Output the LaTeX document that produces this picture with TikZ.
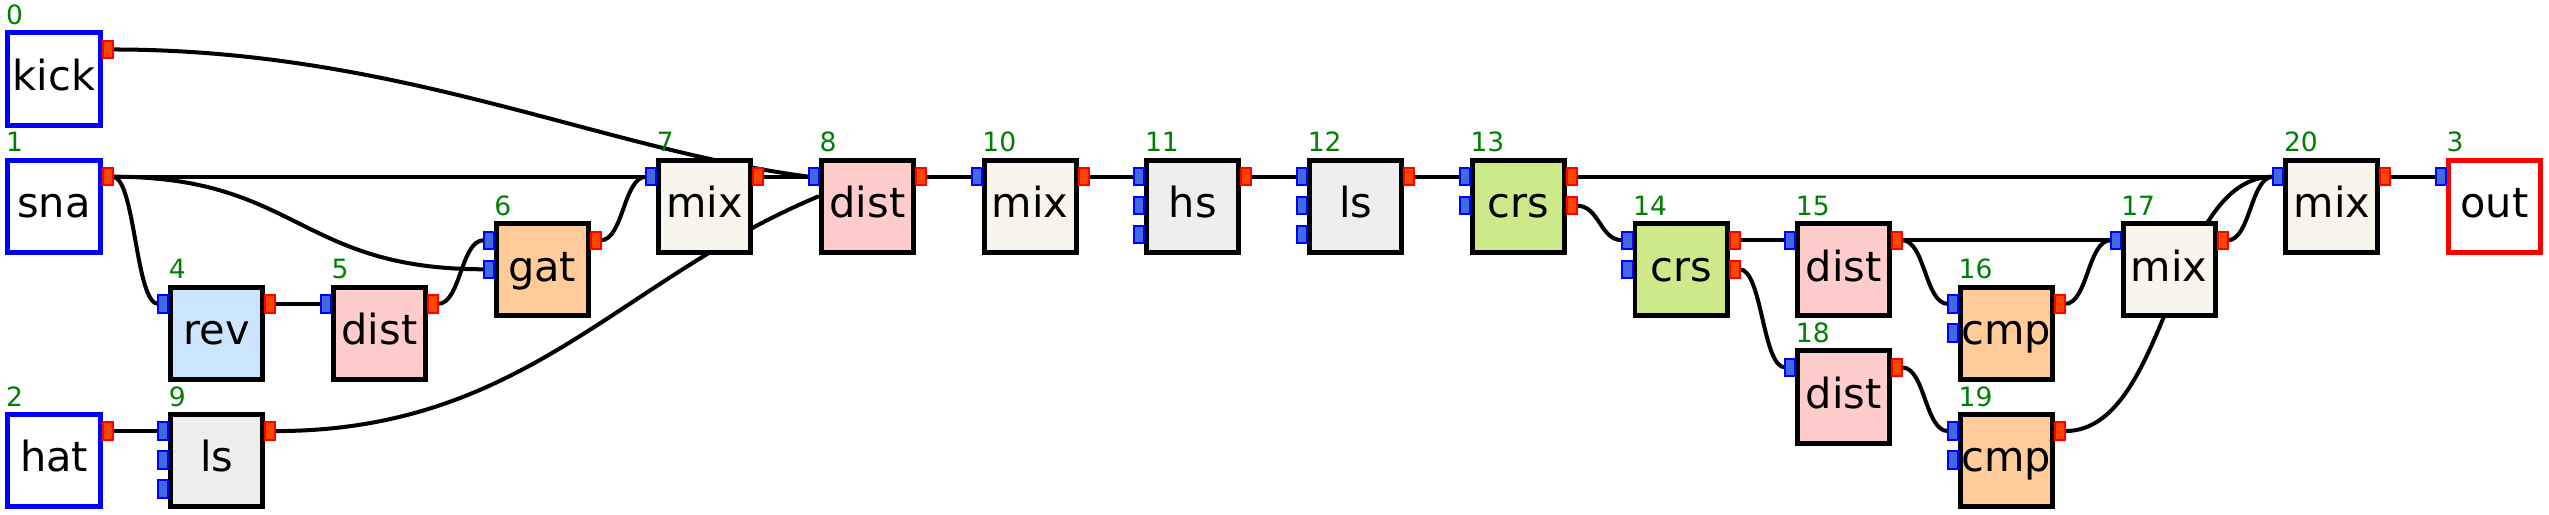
\documentclass[tikz,border=0pt]{standalone}
\usepackage{fontspec}
\setmainfont{DejaVu Sans}
\usepackage{tikz}
\usetikzlibrary{calc,backgrounds}
\definecolor{srcblue}{RGB}{0,0,255}
\definecolor{pblue}{RGB}{65,105,225}
\definecolor{pred}{RGB}{255,69,0}
\definecolor{idgreen}{RGB}{0,128,0}
\definecolor{distfill}{RGB}{255,204,204}
\definecolor{mixfill}{RGB}{248,245,237}
\definecolor{lsfill}{RGB}{238,238,238}
\definecolor{crsfill}{RGB}{205,234,139}
\definecolor{cmpfill}{RGB}{255,204,153}
\definecolor{revfill}{RGB}{204,229,255}
\tikzstyle{blk} = [rectangle, draw=black, line width=1.42pt, minimum width=0.92cm, minimum height=0.92cm,
  inner sep=0pt, text height=0.315cm, text depth=0.09cm, font=\fontsize{11.8}{14}\selectfont]
\tikzstyle{src} = [blk, draw=srcblue, fill=white]
\tikzstyle{snk} = [blk, draw=red, fill=white]
\tikzstyle{inport} = [rectangle, draw=srcblue, fill=pblue, line width=0.57pt, minimum width=0.1cm,
  minimum height=0.175cm, inner sep=0pt, outer sep=0pt]
\tikzstyle{outport} = [inport, draw=red, fill=pred]
\tikzstyle{idx} = [anchor=base west, inner sep=0pt, text=idgreen, font=\fontsize{7.55}{9}\selectfont]
\tikzstyle{wire} = [line width=1.14pt, to path={let \p1=(\tikztostart), \p2=(\tikztotarget) in
  .. controls ({0.5*\x1+0.5*\x2},\y1) and ({0.5*\x1+0.5*\x2},\y2) .. (\tikztotarget)}]
\begin{document}
\begin{tikzpicture}[x=0.01cm,y=0.01cm]
\useasboundingbox (0,0) rectangle (2549,514);
% sources
\node[src] (kick) at (54,435) {kick};
\node[src] (sna) at (54,307.8) {sna};
\node[src] (hat) at (54,53.4) {hat};
% first stage
\node[blk,fill=revfill] (rev4) at (216.7,180.6) {rev};
\node[blk,fill=distfill] (dist5) at (379.4,180.6) {dist};
\node[blk,fill=cmpfill] (gat6) at (542.1,244.2) {gat};
\node[blk,fill=mixfill] (mix7) at (704.8,307.8) {mix};
\node[blk,fill=lsfill] (ls9) at (216.7,53.4) {ls};
\node[blk,fill=distfill] (dist8) at (867.5,307.8) {dist};
% main chain
\node[blk,fill=mixfill] (mix10) at (1030.2,307.8) {mix};
\node[blk,fill=lsfill] (hs11) at (1192.9,307.8) {hs};
\node[blk,fill=lsfill] (ls12) at (1355.6,307.8) {ls};
\node[blk,fill=crsfill] (crs13) at (1518.3,307.8) {crs};
\node[blk,fill=crsfill] (crs14) at (1681,244.2) {crs};
\node[blk,fill=distfill] (dist15) at (1843.7,244.2) {dist};
\node[blk,fill=cmpfill] (cmp16) at (2006.4,180.6) {cmp};
\node[blk,fill=mixfill] (mix17) at (2169.1,244.2) {mix};
\node[blk,fill=distfill] (dist18) at (1843.7,117) {dist};
\node[blk,fill=cmpfill] (cmp19) at (2006.4,53.4) {cmp};
\node[blk,fill=mixfill] (mix20) at (2331.8,307.8) {mix};
\node[snk] (out) at (2494.5,307.8) {out};
% index numbers
\foreach \bx/\t in {kick/0, sna/1, hat/2, out/3, rev4/4, dist5/5, gat6/6, mix7/7, dist8/8, ls9/9,
  mix10/10, hs11/11, ls12/12, crs13/13, crs14/14, dist15/15, cmp16/16, mix17/17, dist18/18, cmp19/19, mix20/20}
  \node[idx] at ([yshift=0.06cm]\bx.north west) {\t};
% ports
\foreach \bx/\np in {out/1, rev4/1, dist5/1, gat6/2, mix7/1, dist8/1, ls9/3, mix10/1, hs11/3, ls12/3,
  crs13/2, crs14/2, dist15/1, cmp16/2, mix17/1, dist18/1, cmp19/2, mix20/1}
  \foreach \j in {1,...,\np}
    \node[inport,anchor=east] (\bx-i\j) at ($(\bx.north west)+(0,{-19-29*(\j-1)})$) {};
\foreach \bx/\np in {kick/1, sna/1, hat/1, rev4/1, dist5/1, gat6/1, mix7/1, dist8/1, ls9/1, mix10/1,
  hs11/1, ls12/1, crs13/2, crs14/2, dist15/1, cmp16/1, mix17/1, dist18/1, cmp19/1, mix20/1}
  \foreach \j in {1,...,\np}
    \node[outport,anchor=west] (\bx-o\j) at ($(\bx.north east)+(0,{-19-29*(\j-1)})$) {};
% connections
\begin{scope}[on background layer]
\draw[line width=1.14pt] (kick-o1.east) .. controls +(286,0) and +(-208,27) .. (dist8-i1.west);
\draw[line width=1.14pt] (ls9-o1.east) .. controls +(250,0) and +(-200,-83) .. ([yshift=0.1cm]dist8.west);
\draw[wire] (sna-o1.east) to (mix7-i1.west);
\draw[wire] (sna-o1.east) to (gat6-i2.west);
\draw[wire] (sna-o1.east) to (rev4-i1.west);
\draw[wire] (rev4-o1.east) to (dist5-i1.west);
\draw[wire] (dist5-o1.east) to (gat6-i1.west);
\draw[wire] (gat6-o1.east) to (mix7-i1.west);
\draw[wire] (mix7-o1.east) to (dist8-i1.west);
\draw[wire] (hat-o1.east) to (ls9-i1.west);
\draw[wire] (dist8-o1.east) to (mix10-i1.west);
\draw[wire] (mix10-o1.east) to (hs11-i1.west);
\draw[wire] (hs11-o1.east) to (ls12-i1.west);
\draw[wire] (ls12-o1.east) to (crs13-i1.west);
\draw[wire] (crs13-o1.east) to (mix20-i1.west);
\draw[wire] (crs13-o2.east) to (crs14-i1.west);
\draw[wire] (crs14-o1.east) to (dist15-i1.west);
\draw[wire] (crs14-o2.east) to (dist18-i1.west);
\draw[wire] (dist15-o1.east) to (mix17-i1.west);
\draw[wire] (dist15-o1.east) to (cmp16-i1.west);
\draw[wire] (cmp16-o1.east) to (mix17-i1.west);
\draw[wire] (dist18-o1.east) to (cmp19-i1.west);
\draw[wire] (cmp19-o1.east) to (mix20-i1.west);
\draw[wire] (mix17-o1.east) to (mix20-i1.west);
\draw[wire] (mix20-o1.east) to (out-i1.west);
\end{scope}
\end{tikzpicture}
\end{document}
